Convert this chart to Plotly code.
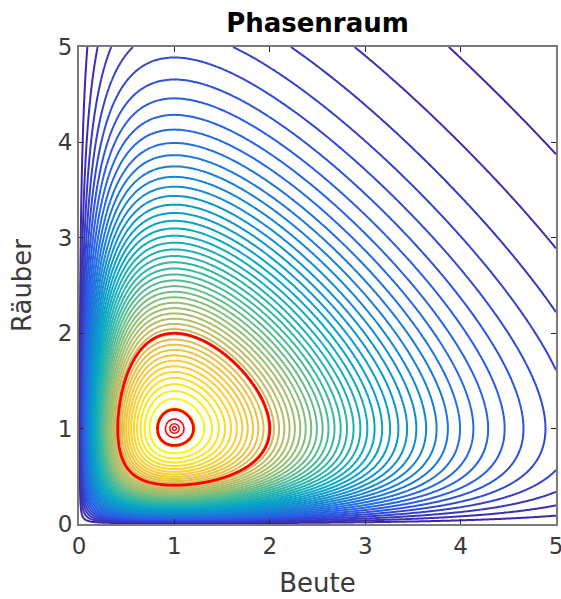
import numpy as np
import plotly.graph_objects as go

# Lotka-Volterra model: prey growth, predation rate, predator death, conversion
alpha, beta, gamma, delta = 1.0, 1.0, 1.0, 1.0

beute_range = [0.0, 5.0]
raeuber_range = [0.0, 5.0]
tick_values = [0, 1, 2, 3, 4, 5]

# number of evenly spaced levels of the conserved quantity
n_levels = 49

# predator start values (prey at equilibrium) of the highlighted orbits
orbit_starts = [2.0, 1.2, 1.1, 1.05, 1.02]
orbit_widths = [2.8, 2.8, 1.6, 1.4, 1.4]

# MATLAB parula colour map
parula = [
    [0.000, "#3e26a8"],
    [0.125, "#2a5ce8"],
    [0.250, "#1485d4"],
    [0.375, "#06a7c6"],
    [0.500, "#38b99e"],
    [0.625, "#92bf73"],
    [0.750, "#d9ba56"],
    [0.875, "#fcce2e"],
    [1.000, "#f9fb0e"],
]


def invariant(x, y):
    """Conserved quantity V = x^gamma e^(-delta x) * y^alpha e^(-beta y)."""
    X, Y = np.meshgrid(x, y)
    return (X ** gamma) * np.exp(-delta * X) * (Y ** alpha) * np.exp(-beta * Y)


x_eq, y_eq = gamma / delta, alpha / beta
v_max = float(invariant(np.array([x_eq]), np.array([y_eq]))[0, 0])
level_step = v_max / (n_levels + 1)

# grid refined near the axes, where the level curves crowd together
grid = np.unique(np.concatenate([
    np.linspace(0.0, 0.6, 181),
    np.linspace(0.6, 5.0, 221),
]))
z = invariant(grid, grid)

fig = go.Figure()
fig.add_trace(go.Contour(
    x=grid, y=grid, z=z,
    autocontour=False,
    contours=dict(start=level_step, end=v_max - 0.5 * level_step,
                  size=level_step, coloring="lines"),
    colorscale=parula, zmin=0.0, zmax=v_max,
    line=dict(width=2.0),
    showscale=False, hoverinfo="skip",
))

# highlighted orbits through (x_eq, y0)
for y0, w in zip(orbit_starts, orbit_widths):
    level = float(invariant(np.array([x_eq]), np.array([y0]))[0, 0])
    half = max(abs(y0 - y_eq) * 1.6, 0.05)
    if y0 >= 1.5:
        lx = np.linspace(0.15, 2.4, 301)
        ly = np.linspace(0.15, 2.4, 301)
    else:
        lx = np.linspace(x_eq - half, x_eq + half, 161)
        ly = np.linspace(y_eq - half, y_eq + half, 161)
    fig.add_trace(go.Contour(
        x=lx, y=ly, z=invariant(lx, ly),
        autocontour=False,
        contours=dict(start=level, end=level, size=1.0, coloring="lines"),
        colorscale=[[0, "#ff0000"], [1, "#ff0000"]],
        line=dict(width=w),
        showscale=False, hoverinfo="skip",
    ))

axis_common = dict(
    tickvals=tick_values,
    ticks="inside", ticklen=5, tickwidth=1, tickcolor="#262626",
    showline=True, linecolor="#7a7a7a", linewidth=2, mirror="allticks",
    showgrid=False, zeroline=False, automargin=False,
    ticklabeloverflow="allow",
    tickfont=dict(family="DejaVu Sans", size=23, color="#3a3a3a"),
)

fig.update_layout(
    width=561, height=599,
    margin=dict(l=79, r=5, t=47, b=75, autoexpand=False),
    paper_bgcolor="white", plot_bgcolor="white",
    showlegend=False,
    title=dict(text="<b>Phasenraum</b>", x=0.5, xref="paper",
               y=1 - 23 / 599, yref="container", yanchor="middle",
               font=dict(family="DejaVu Sans", size=26, color="black")),
    xaxis=dict(range=beute_range, **axis_common,
               title=dict(text="Beute", standoff=16,
                          font=dict(family="DejaVu Sans", size=26, color="#3a3a3a"))),
    yaxis=dict(range=raeuber_range, **axis_common,
               title=dict(text="Räuber", standoff=19,
                          font=dict(family="DejaVu Sans", size=26, color="#3a3a3a"))),
)

fig.write_html("out.html")
